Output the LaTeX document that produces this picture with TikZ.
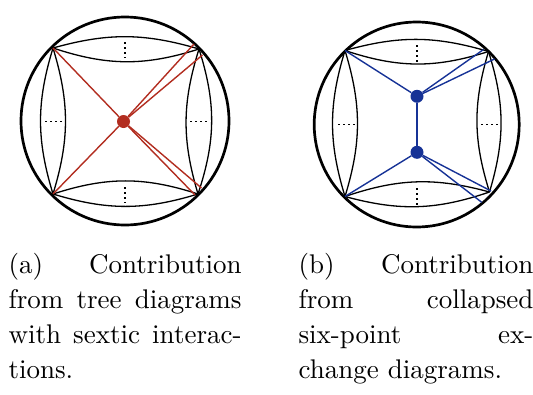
\documentclass[tikz,border=0pt]{standalone}
\usetikzlibrary{positioning}
\definecolor{diagred}{RGB}{178,45,32}
\definecolor{diagblue}{RGB}{22,50,150}
\tikzset{
    boundary/.style={line width=2.7pt},
    wedge/.style={line width=1.3pt},
    dotrow/.style={line width=1.6pt, dash pattern=on 1.6pt off 3.5pt},
    redline/.style={diagred, line width=1.4pt},
    blueline/.style={diagblue, line width=1.4pt},
    reddot/.style={circle, fill=diagred, inner sep=0pt, minimum size=13pt},
    bluedot/.style={circle, fill=diagblue, inner sep=0pt, minimum size=13pt},
    captiontext/.style={anchor=north west, inner sep=0pt, scale=2.7, transform shape, text width=86.3pt, align=justify,
        font=\fontsize{10}{12.96}\selectfont}
}
\begin{document}
\begin{tikzpicture}[x=1pt, y=-1pt]
    \useasboundingbox (0,0) rectangle (533,394);

    % Tree diagrams
    \node[draw, boundary, circle, inner sep=0pt, minimum size=208pt] (rim a) at (125,121) {};
    \coordinate (a tl) at (53,48);
    \coordinate (a tr) at (199,49);
    \coordinate (a bl) at (53,194);
    \coordinate (a br) at (198,194);
    \draw[wedge] (a tl) to[bend left=16] (a tr);
    \draw[wedge] (a tl) to[bend right=18] (a tr);
    \draw[wedge] (a bl) to[bend left=18] (a br);
    \draw[wedge] (a bl) to[bend right=17] (a br);
    \draw[wedge] (a tl) to[bend left=17] (a bl);
    \draw[wedge] (a tl) to[bend right=17] (a bl);
    \draw[wedge] (a tr) to[bend left=18] (a br);
    \draw[wedge] (a tr) to[bend right=17] (a br);
    \coordinate (a top1) at (125,42);
    \coordinate (a top2) at (125,58);
    \coordinate (a bot1) at (125,187);
    \coordinate (a bot2) at (125,203);
    \coordinate (a left1) at (45,121.5);
    \coordinate (a left2) at (62,121.5);
    \coordinate (a right1) at (190,121.5);
    \coordinate (a right2) at (207,121.5);
    \draw[dotrow] (a top1) -- (a top2);
    \draw[dotrow] (a bot1) -- (a bot2);
    \draw[dotrow] (a left1) -- (a left2);
    \draw[dotrow] (a right1) -- (a right2);
    \node[reddot] (vert a) at (123.5,121.5) {};
    \coordinate (a end1) at (194,44);
    \coordinate (a end2) at (202.5,55);
    \coordinate (a end3) at (201.5,188);
    \coordinate (a end4) at (195,195);
    \draw[redline] (vert a) -- (a tl);
    \draw[redline] (vert a) -- (a bl);
    \draw[redline] (vert a) -- (a end1);
    \draw[redline] (vert a) -- (a end2);
    \draw[redline] (vert a) -- (a end3);
    \draw[redline] (vert a) -- (a end4);

    % Collapsed exchange diagrams
    \node[draw, boundary, circle, inner sep=0pt, minimum size=205pt] (rim b) at (416.7,124.5) {};
    \coordinate (b tl) at (345,50.5);
    \coordinate (b tr) at (488.5,51.5);
    \coordinate (b bl) at (345,196.5);
    \coordinate (b br) at (489.5,192);
    \draw[wedge] (b tl) to[bend left=16] (b tr);
    \draw[wedge] (b tl) to[bend right=18] (b tr);
    \draw[wedge] (b bl) to[bend left=17] (b br);
    \draw[wedge] (b bl) to[bend right=17] (b br);
    \draw[wedge] (b tl) to[bend left=17] (b bl);
    \draw[wedge] (b tl) to[bend right=17] (b bl);
    \draw[wedge] (b tr) to[bend left=17] (b br);
    \draw[wedge] (b tr) to[bend right=17] (b br);
    \coordinate (b top1) at (416.7,45);
    \coordinate (b top2) at (416.7,62);
    \coordinate (b bot1) at (416.7,188);
    \coordinate (b bot2) at (416.7,205);
    \coordinate (b left1) at (338,124.5);
    \coordinate (b left2) at (355,124.5);
    \coordinate (b right1) at (481,124.5);
    \coordinate (b right2) at (498,124.5);
    \draw[dotrow] (b top1) -- (b top2);
    \draw[dotrow] (b bot1) -- (b bot2);
    \draw[dotrow] (b left1) -- (b left2);
    \draw[dotrow] (b right1) -- (b right2);
    \node[bluedot] (vert b1) at (417,96.3) {};
    \node[bluedot] (vert b2) at (417,152.3) {};
    \coordinate (b end1) at (483.5,49.5);
    \coordinate (b end2) at (494.5,59);
    \coordinate (b end3) at (491,191);
    \coordinate (b end4) at (481.7,202.3);
    \draw[blueline] (vert b1) -- (vert b2);
    \draw[blueline] (vert b1) -- (b tl);
    \draw[blueline] (vert b1) -- (b end1);
    \draw[blueline] (vert b1) -- (b end2);
    \draw[blueline] (vert b2) -- (b bl);
    \draw[blueline] (vert b2) -- (b end3);
    \draw[blueline] (vert b2) -- (b end4);

    % Captions
    \node[captiontext] (caption a) at (8,253) {(a) Contribution\linebreak from tree diagrams\linebreak with sextic interac-\hspace{-1.5pt}\linebreak tions.};
    \node[captiontext, text width=87pt] (caption b) at (298,253) {(b) Contribution\linebreak from collapsed\linebreak six-point ex-\linebreak change diagrams.};
\end{tikzpicture}
\end{document}
